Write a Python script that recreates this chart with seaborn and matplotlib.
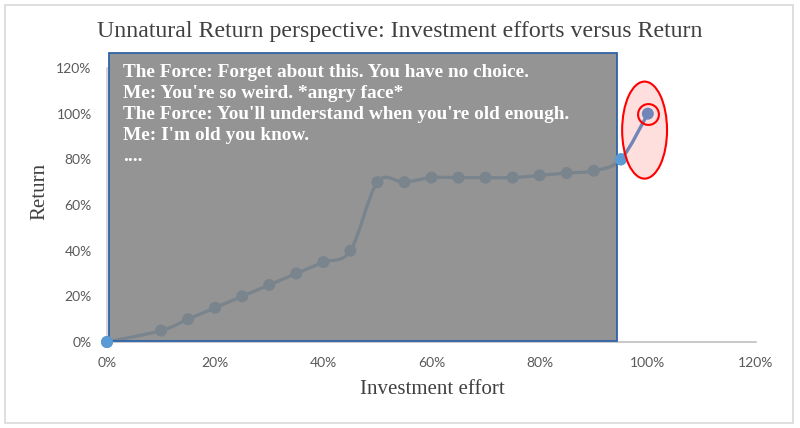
import numpy as np
import pandas as pd
import matplotlib
matplotlib.use("Agg")
import matplotlib.pyplot as plt
import seaborn as sns
from matplotlib.patches import Rectangle, Ellipse, PathPatch
from matplotlib.path import Path
from matplotlib.ticker import PercentFormatter

# ---- data ----
effort = [0.00, 0.10, 0.15, 0.20, 0.25, 0.30, 0.35, 0.40, 0.45, 0.50,
          0.55, 0.60, 0.65, 0.70, 0.75, 0.80, 0.85, 0.90, 0.95, 1.00]
ret = [0.00, 0.05, 0.10, 0.15, 0.20, 0.25, 0.30, 0.35, 0.40, 0.70,
       0.70, 0.72, 0.72, 0.72, 0.72, 0.73, 0.74, 0.75, 0.80, 1.00]
x_ticks = [0.0, 0.2, 0.4, 0.6, 0.8, 1.0, 1.2]
y_ticks = [0.0, 0.2, 0.4, 0.6, 0.8, 1.0, 1.2]
title = "Unnatural Return perspective: Investment efforts versus Return"
x_label = "Investment effort"
y_label = "Return"
box_lines = [
    "The Force: Forget about this. You have no choice.",
    "Me: You're so weird. *angry face*",
    "The Force: You'll understand when you're old enough.",
    "Me: I'm old you know.",
    "....",
]

df = pd.DataFrame({"effort": effort, "ret": ret})

sns.set_theme(style="white")
plt.rcParams['font.family'] = ['Lato', 'DejaVu Sans']

fig = plt.figure(figsize=(8, 4.28), dpi=100)
ax = fig.add_axes([107/800, 1-342/428, (756-107)/800, (342-68)/428])

line_color = "#5b9bd5"

# smoothed line (Excel-style Bezier through the data points)
pts = np.column_stack([effort, ret])
verts = [tuple(pts[0])]
codes = [Path.MOVETO]
n = len(pts)
for i in range(n - 1):
    p0 = pts[i - 1] if i > 0 else pts[i]
    p1 = pts[i]
    p2 = pts[i + 1]
    p3 = pts[i + 2] if i + 2 < n else pts[i + 1]
    c1 = p1 + (p2 - p0) / 6.0
    c2 = p2 - (p3 - p1) / 6.0
    verts += [tuple(c1), tuple(c2), tuple(p2)]
    codes += [Path.CURVE4] * 3
ax.add_patch(PathPatch(Path(verts, codes), facecolor="none", edgecolor=line_color,
                       lw=2.4, zorder=2, capstyle="round", joinstyle="round"))

sns.scatterplot(data=df, x="effort", y="ret", ax=ax, s=75, color=line_color,
                edgecolor="none", zorder=3, legend=False, clip_on=False)
# end points sitting on the overlay edges
sns.scatterplot(data=df.iloc[[0, 18]], x="effort", y="ret", ax=ax, s=75,
                color=line_color, edgecolor="none", zorder=4.5, legend=False,
                clip_on=False)

ax.set_xlim(0, 1.2)
ax.set_ylim(0, 1.2)
ax.set_xticks(x_ticks)
ax.set_yticks(y_ticks)
ax.xaxis.set_major_formatter(PercentFormatter(1.0, decimals=0))
ax.yaxis.set_major_formatter(PercentFormatter(1.0, decimals=0))
ax.tick_params(axis="both", length=0, labelsize=10, colors="#595959")
ax.tick_params(axis="y", pad=11)
ax.tick_params(axis="x", pad=11)
ax.set_xlabel("")
ax.set_ylabel("")
for s in ["top", "right"]:
    ax.spines[s].set_visible(False)
ax.spines["bottom"].set_color("#bfbfbf")
ax.spines["left"].set_color("#d0d0d0")
ax.spines["bottom"].set_linewidth(1.2)
ax.spines["left"].set_linewidth(1.2)
ax.set_facecolor("white")
ax.grid(False)

# gray overlay box
ax.add_patch(Rectangle((0.004, 0.004), 0.939, 1.261, facecolor="#808080", alpha=0.84,
                       edgecolor="none", zorder=4, clip_on=False))
ax.add_patch(Rectangle((0.004, 0.004), 0.939, 1.261, facecolor="none",
                       edgecolor="#2e64a8", lw=1.3, zorder=4.1, clip_on=False))

# red ellipse highlight
ax.add_patch(Ellipse((0.994, 0.928), 0.083, 0.425, facecolor=(1, 0, 0, 0.13),
                     edgecolor="#ff0000", lw=1.5, zorder=5, clip_on=False))
ax.plot([effort[-1]], [ret[-1]], marker="o", markersize=15, markerfacecolor="none",
        markeredgecolor="#ff0000", markeredgewidth=1.5, zorder=6, clip_on=False)

serif = ['Liberation Serif', 'DejaVu Serif']
fig.text(400/800, 1-31/428, title, ha="center", va="center", fontsize=17.2,
         color="#404040", family=serif)
fig.text(432/800, 1-389/428, x_label, ha="center", va="center", fontsize=15,
         color="#404040", family=serif)
fig.text(40/800, 1-191/428, y_label, ha="center", va="center", rotation=90,
         fontsize=15, color="#404040", family=serif)
for k, line in enumerate(box_lines):
    fig.text(123/800, 1-(77 + 21*k)/428, line, ha="left", va="baseline",
             fontsize=13.9, fontweight="bold", color="white", family=serif)

# chart area border
fig.patches.append(Rectangle((5/800, 5/428), 788/800, 418/428, transform=fig.transFigure,
                             facecolor="none", edgecolor="#d9d9d9", lw=1.2))

fig.savefig("out.png", dpi=100)
